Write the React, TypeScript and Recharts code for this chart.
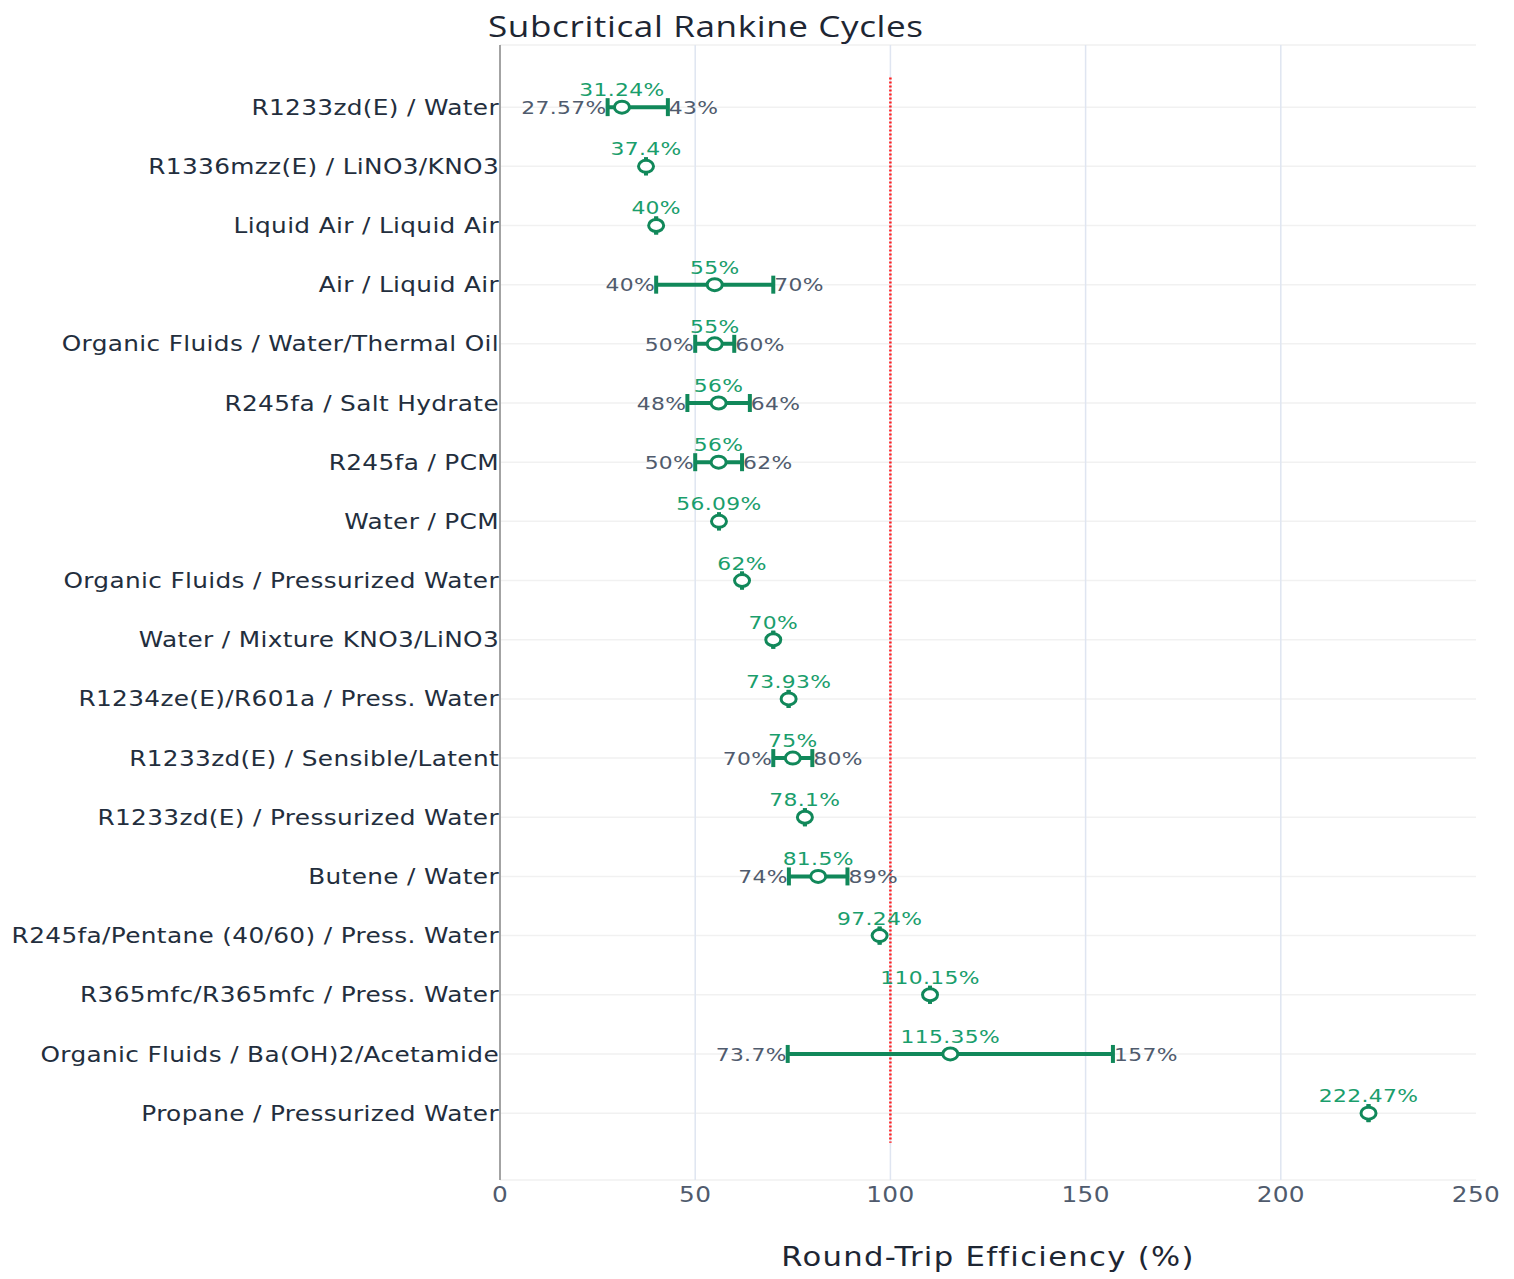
import {
  ScatterChart,
  Scatter,
  XAxis,
  YAxis,
  CartesianGrid,
  ErrorBar,
  ReferenceLine,
} from "recharts";

const categories = [
  "R1233zd(E) / Water",
  "R1336mzz(E) / LiNO3/KNO3",
  "Liquid Air / Liquid Air",
  "Air / Liquid Air",
  "Organic Fluids / Water/Thermal Oil",
  "R245fa / Salt Hydrate",
  "R245fa / PCM",
  "Water / PCM",
  "Organic Fluids / Pressurized Water",
  "Water / Mixture KNO3/LiNO3",
  "R1234ze(E)/R601a / Press. Water",
  "R1233zd(E) / Sensible/Latent",
  "R1233zd(E) / Pressurized Water",
  "Butene / Water",
  "R245fa/Pentane (40/60) / Press. Water",
  "R365mfc/R365mfc / Press. Water",
  "Organic Fluids / Ba(OH)2/Acetamide",
  "Propane / Pressurized Water",
];

// round-trip efficiency (%), with min / max where a range was reported
const rte = [31.24, 37.4, 40, 55, 55, 56, 56, 56.09, 62, 70, 73.93, 75, 78.1, 81.5, 97.24, 110.15, 115.35, 222.47];
const rteLow = [27.57, null, null, 40, 50, 48, 50, null, null, null, null, 70, null, 74, null, null, 73.7, null];
const rteHigh = [43, null, null, 70, 60, 64, 62, null, null, null, null, 80, null, 89, null, null, 157, null];

const xTicks = [0, 50, 100, 150, 200, 250];
const gridX = [50, 100, 150, 200];
const parityLine = 100;

const GREEN = "#11885a";
const GREEN_TEXT = "#1a9e6c";
const GREY_TEXT = "#505b6d";
const DARK_TEXT = "#232e3d";
const FONT = "DejaVu Sans";
const SX = 1.18; // the original's text is drawn a bit wider than the font

const points = categories.map((name, i) => {
  const lo = rteLow[i];
  const hi = rteHigh[i];
  return {
    idx: i,
    name,
    x: rte[i],
    err: [lo == null ? 0 : rte[i] - lo, hi == null ? 0 : hi - rte[i]],
  };
});

const lowPts = categories
  .map((_, i) => ({ idx: i, x: rteLow[i] }))
  .filter((d) => d.x != null);
const highPts = categories
  .map((_, i) => ({ idx: i, x: rteHigh[i] }))
  .filter((d) => d.x != null);

const fmt = (v: number) => `${v}%`;

// svg text stretched horizontally around its anchor point
const Wide = ({ x, y, anchor, size, fill, dy, children }: any) => (
  <text
    transform={`translate(${x},${y}) scale(${SX},1)`}
    textAnchor={anchor}
    dy={dy}
    fontFamily={FONT}
    fontSize={size}
    fill={fill}
    letterSpacing={0.3}
  >
    {children}
  </text>
);

const Dot = (p: any) => (
  <g>
    <ellipse cx={p.cx} cy={p.cy} rx={7.5} ry={6} fill="#fff" stroke={GREEN} strokeWidth={3} />
    <Wide x={p.cx} y={p.cy - 11} anchor="middle" size={18.5} fill={GREEN_TEXT}>
      {fmt(p.payload.x)}
    </Wide>
  </g>
);

const LowLabel = (p: any) => (
  <Wide x={p.cx - 1} y={p.cy} dy="0.36em" anchor="end" size={18.5} fill={GREY_TEXT}>
    {fmt(p.payload.x)}
  </Wide>
);

const HighLabel = (p: any) => (
  <Wide x={p.cx + 1} y={p.cy} dy="0.36em" anchor="start" size={18.5} fill={GREY_TEXT}>
    {fmt(p.payload.x)}
  </Wide>
);

const CatTick = (p: any) => (
  <Wide x={p.x} y={p.y} dy="0.36em" anchor="end" size={21} fill={DARK_TEXT}>
    {categories[p.payload.value]}
  </Wide>
);

const ValueTick = (p: any) => (
  <Wide x={p.x} y={p.y} dy="0.75em" anchor="middle" size={21} fill={GREY_TEXT}>
    {p.payload.value}
  </Wide>
);

export default function App() {
  return (
    <div style={{ position: "absolute", left: 0, top: 0, width: 1514, height: 1279, background: "#fff" }}>
      <div
        style={{
          position: "absolute",
          left: 488,
          top: 6,
          fontFamily: "Open Sans",
          fontSize: 29,
          letterSpacing: 0.5,
          color: "#1e2633",
          whiteSpace: "nowrap",
          transform: "scaleX(1.21)",
          transformOrigin: "left top",
        }}
      >
        Subcritical Rankine Cycles
      </div>
      <div
        style={{
          position: "absolute",
          left: 988,
          top: 1242,
          fontFamily: FONT,
          fontSize: 26,
          letterSpacing: 1.1,
          color: "#1e2633",
          whiteSpace: "nowrap",
          transform: "translateX(-50%) scaleX(1.18)",
          transformOrigin: "center top",
        }}
      >
        Round-Trip Efficiency (%)
      </div>
      <ScatterChart width={1514} height={1279} margin={{ top: 45, right: 38, bottom: 0, left: 0 }}>
        <CartesianGrid horizontal vertical={false} stroke="#f1f1f1" strokeWidth={1.5} />
        {gridX.map((g) => (
          <ReferenceLine key={g} x={g} stroke="#dfe5f1" strokeWidth={1.5} />
        ))}
        <XAxis
          type="number"
          dataKey="x"
          domain={[0, 250]}
          ticks={xTicks}
          allowDataOverflow
          axisLine={false}
          tickLine={false}
          tickSize={6}
          tickMargin={0}
          height={99}
          tick={ValueTick}
        />
        <YAxis
          type="number"
          dataKey="idx"
          domain={[-1.05, 18.13]}
          reversed
          ticks={categories.map((_, i) => i)}
          interval={0}
          width={500}
          axisLine={{ stroke: "#a3a3a3", strokeWidth: 2 }}
          tickLine={false}
          tickSize={1}
          tickMargin={0}
          tick={CatTick}
        />
        <ReferenceLine
          segment={[
            { x: parityLine, y: -0.5 },
            { x: parityLine, y: 17.5 },
          ]}
          stroke="#ff2020"
          strokeWidth={2.5}
          strokeDasharray="2 2"
        />
        <Scatter data={points} isAnimationActive={false} shape={() => <g />}>
          <ErrorBar dataKey="err" direction="x" width={9} stroke={GREEN} strokeWidth={4} />
        </Scatter>
        <Scatter data={lowPts} isAnimationActive={false} shape={LowLabel} />
        <Scatter data={highPts} isAnimationActive={false} shape={HighLabel} />
        <Scatter data={points} isAnimationActive={false} shape={Dot} />
      </ScatterChart>
    </div>
  );
}
